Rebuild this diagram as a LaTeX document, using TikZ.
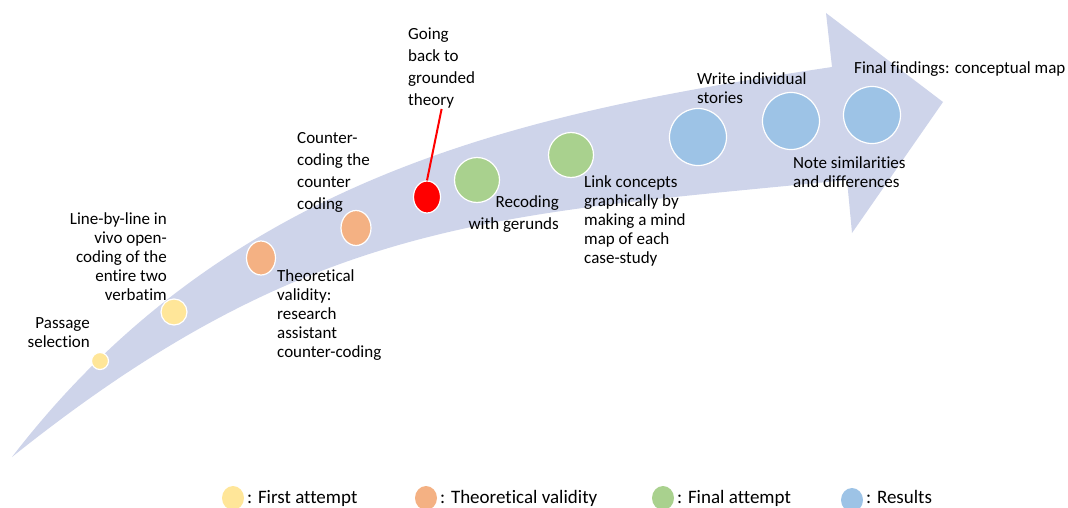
\documentclass[tikz,border=0pt]{standalone}
\usepackage{fontspec}
\setmainfont{Carlito}[Ligatures=NoCommon]
\usetikzlibrary{shapes.geometric}
\definecolor{bandfill}{RGB}{206,212,234}
\definecolor{firstc}{RGB}{255,230,153}
\definecolor{theoc}{RGB}{244,177,131}
\definecolor{finalc}{RGB}{169,209,142}
\definecolor{resc}{RGB}{157,195,230}
\begin{document}
\begin{tikzpicture}[x=1pt,y=-1pt,
  dot/.style={ellipse, draw=white, line width=1.2pt, inner sep=0pt},
  keydot/.style={ellipse, inner sep=0pt, minimum width=22pt, minimum height=24pt},
  lbl/.style={inner sep=0pt, font=\fontsize{17}{19}\selectfont},
  lblwide/.style={inner sep=0pt, font=\fontsize{17}{22}\selectfont},
  keylbl/.style={inner sep=0pt, anchor=base west, font=\fontsize{19}{22}\selectfont}]
\useasboundingbox (0,0) rectangle (1068,508);

% curved block arrow
\fill[bandfill]
  (12,457) .. controls (232,171) and (532,112) .. (832,67)
  -- (826,13) -- (943,102) -- (852,233) -- (847,180)
  .. controls (497,215) and (312,217) .. (12,457)
  -- cycle;

% milestones along the arrow
\node[dot, fill=firstc, minimum width=17pt, minimum height=17pt] (y1) at (100,361) {};
\node[dot, fill=firstc, minimum width=26pt, minimum height=26pt] (y2) at (174,312) {};
\node[dot, fill=theoc, minimum width=29pt, minimum height=34pt] (o1) at (261,258) {};
\node[dot, fill=theoc, minimum width=30pt, minimum height=35pt] (o2) at (356,228) {};
\node[dot, fill=red, minimum width=27pt, minimum height=32pt] (rd) at (427,197) {};
\node[dot, fill=finalc, minimum width=45pt, minimum height=45pt] (g1) at (477,180) {};
\node[dot, fill=finalc, minimum width=45pt, minimum height=45pt] (g2) at (571,155) {};
\node[dot, fill=resc, minimum width=57pt, minimum height=57pt] (b1) at (698,137) {};
\node[dot, fill=resc, minimum width=57pt, minimum height=57pt] (b2) at (791,121) {};
\node[dot, fill=resc, minimum width=57pt, minimum height=57pt] (b3) at (872,115) {};

% step labels (anchored on the baseline of their last line)
\node[lbl, anchor=base east, align=right] (t1) at (90,347) {Passage\\selection};
\node[lbl, anchor=base east, align=right] (t2) at (167,300) {Line-by-line in\\vivo open-\\coding of the\\entire two\\verbatim};
\node[lbl, anchor=base west, align=left] (t3) at (277,357) {Theoretical\\validity:\\research\\assistant\\counter-coding};
\node[lblwide, anchor=base west, align=left] (t4) at (297,209) {Counter-\\coding the\\counter\\coding};
\node[lblwide, anchor=base west, align=left] (t5) at (408,106) {Going\\back to\\grounded\\theory};
\node[lblwide, anchor=base east, align=right] (t6) at (559,229) {Recoding\\with gerunds};
\node[lbl, anchor=base west, align=left] (t7) at (584,263) {Link concepts\\graphically by\\making a mind\\map of each\\case-study};
\node[lbl, anchor=base west, align=left] (t8) at (697,104) {Write individual\\stories};
\node[lbl, anchor=base west, align=left] (t9) at (793,187) {Note similarities\\and differences};
\node[lbl, anchor=base west] (t10) at (854,74) {Final findings: conceptual map};

% pointer to the grounded theory note
\draw[red, line width=2pt] (rd.north) -- (t5.south);

% key
\node[keydot, fill=firstc] (k1) at (233,498) {};
\node[keylbl] (k1t) at (247,503) {: First attempt};
\node[keydot, fill=theoc] (k2) at (426,498) {};
\node[keylbl] (k2t) at (440,503) {: Theoretical validity};
\node[keydot, fill=finalc] (k3) at (663,498) {};
\node[keylbl] (k3t) at (677,503) {: Final attempt};
\node[keydot, fill=resc] (k4) at (852,500) {};
\node[keylbl] (k4t) at (866,503) {: Results};
\end{tikzpicture}
\end{document}
